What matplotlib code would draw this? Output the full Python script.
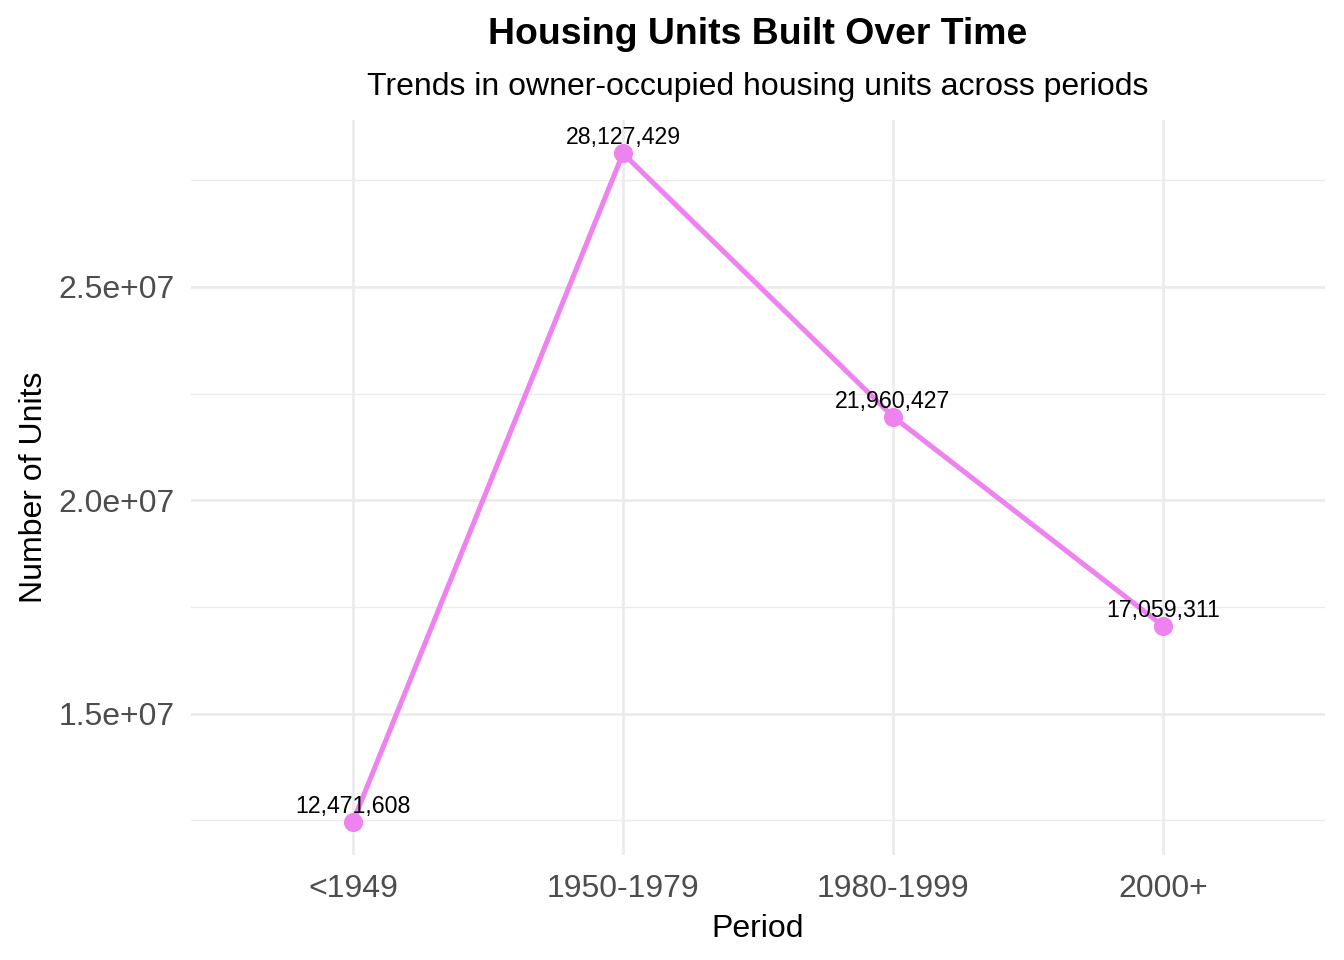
import matplotlib
matplotlib.use("Agg")
import matplotlib.pyplot as plt
from matplotlib.ticker import FixedLocator

periods = ["<1949", "1950-1979", "1980-1999", "2000+"]
units = [12471608, 28127429, 21960427, 17059311]
y_ticks = [1.5e7, 2.0e7, 2.5e7]
y_tick_labels = ["1.5e+07", "2.0e+07", "2.5e+07"]
y_minor = [1.25e7, 1.75e7, 2.25e7, 2.75e7]

plt.rcParams["font.family"] = ["Arial", "Liberation Sans", "DejaVu Sans"]

fig = plt.figure(figsize=(7, 5), dpi=192)
ax = fig.add_axes([191 / 1344, 1 - 855 / 960, (1325 - 191) / 1344, (855 - 120) / 960])

x = list(range(len(periods)))
line_col = "#EE82EE"
ax.plot(x, units, color=line_col, linewidth=1.9, zorder=3)
ax.scatter(x, units, color=line_col, s=38, zorder=4)
for xi, v in zip(x, units):
    ax.annotate(f"{v:,}", (xi, v), xytext=(0, 1.5), textcoords="offset points",
                ha="center", va="bottom", fontsize=8.7, color="black", zorder=5)

rng = max(units) - min(units)
ax.set_ylim(min(units) - 0.05 * rng, max(units) + 0.05 * rng)
ax.set_xlim(-0.6, len(periods) - 0.4)

ax.set_xticks(x)
ax.set_xticklabels(periods)
ax.set_yticks(y_ticks)
ax.set_yticklabels(y_tick_labels)
ax.yaxis.set_minor_locator(FixedLocator(y_minor))

ax.grid(True, which="major", color="#EBEBEB", linewidth=1.0, zorder=0)
ax.grid(True, which="minor", axis="y", color="#EBEBEB", linewidth=0.5, zorder=0)
ax.tick_params(which="both", length=0, labelsize=12, labelcolor="#4D4D4D")
ax.tick_params(axis="y", pad=6)
ax.tick_params(axis="x", pad=7)
for s in ax.spines.values():
    s.set_visible(False)

ax.set_xlabel("Period", fontsize=12, labelpad=4)
ax.set_ylabel("Number of Units", fontsize=12, labelpad=3.5)

cx = (191 + 1325) / 2 / 1344
fig.text(cx, 1 - 35 / 960, "Housing Units Built Over Time", ha="center", va="center",
         fontsize=14, fontweight="bold")
fig.text(cx, 1 - 87 / 960, "Trends in owner-occupied housing units across periods",
         ha="center", va="center", fontsize=12)

fig.savefig("out.png", dpi=192, facecolor="white")
